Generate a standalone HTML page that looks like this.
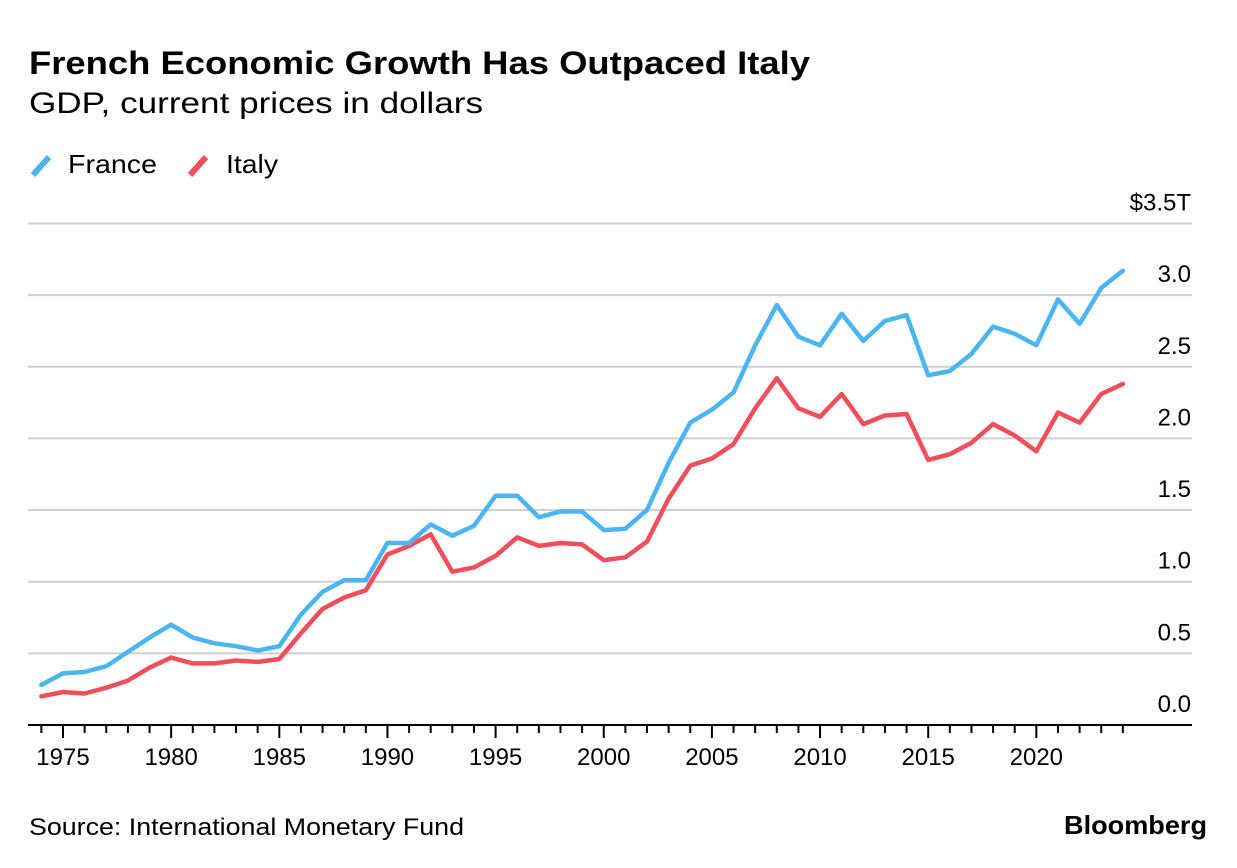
<!DOCTYPE html>
<html><head><meta charset="utf-8"><style>
body{margin:0;background:#fff;width:1237px;height:868px;overflow:hidden;font-family:"Liberation Sans",sans-serif}
svg{display:block}
</style></head><body>
<svg id="chart" width="1237" height="868" viewBox="0 0 1237 868" xmlns="http://www.w3.org/2000/svg" font-family="Liberation Sans, sans-serif">
<text x="29" y="74" font-size="32" font-weight="bold" fill="#000" textLength="781" lengthAdjust="spacingAndGlyphs">French Economic Growth Has Outpaced Italy</text>
<text x="29" y="113" font-size="30" fill="#000" textLength="454" lengthAdjust="spacingAndGlyphs">GDP, current prices in dollars</text>
<g>
<line x1="33" y1="175" x2="49" y2="157" stroke="#4bb5f3" stroke-width="6" stroke-linecap="butt"/>
<text x="68" y="173" font-size="26" textLength="89" lengthAdjust="spacingAndGlyphs">France</text>
<line x1="190" y1="175" x2="206" y2="157" stroke="#f04e5a" stroke-width="6"/>
<text x="226" y="173" font-size="26" textLength="52" lengthAdjust="spacingAndGlyphs">Italy</text>
</g>
<g id="grid"></g><g id="xaxis"></g><g id="series"></g>
<text x="29" y="835" font-size="24" textLength="435" lengthAdjust="spacingAndGlyphs">Source: International Monetary Fund</text>
<text x="1064" y="834" font-size="26" font-weight="bold" textLength="143" lengthAdjust="spacingAndGlyphs">Bloomberg</text>
</svg>
<script>
const years=[];for(let y=1974;y<=2024;y++)years.push(y);
const france=[0.28,0.36,0.37,0.41,0.51,0.61,0.70,0.61,0.57,0.55,0.52,0.55,0.77,0.93,1.01,1.01,1.27,1.27,1.40,1.32,1.39,1.60,1.60,1.45,1.49,1.49,1.36,1.37,1.50,1.83,2.11,2.20,2.32,2.65,2.93,2.71,2.65,2.87,2.68,2.82,2.86,2.44,2.47,2.59,2.78,2.73,2.65,2.97,2.80,3.05,3.17];
const italy=[0.20,0.23,0.22,0.26,0.31,0.40,0.47,0.43,0.43,0.45,0.44,0.46,0.64,0.81,0.89,0.94,1.19,1.25,1.33,1.07,1.10,1.18,1.31,1.25,1.27,1.26,1.15,1.17,1.28,1.58,1.81,1.86,1.96,2.21,2.42,2.21,2.15,2.31,2.10,2.16,2.17,1.85,1.89,1.97,2.10,2.02,1.91,2.18,2.11,2.31,2.38];
const yTicks=[0,0.5,1,1.5,2,2.5,3,3.5];
const yTickLabels=["0.0","0.5","1.0","1.5","2.0","2.5","3.0","$3.5T"];
const xLabelYears=[1975,1980,1985,1990,1995,2000,2005,2010,2015,2020];
const NS="http://www.w3.org/2000/svg";
const X=y=>63+(y-1975)*21.63;
const Y=v=>725-v*143.3;
function mk(tag,attrs,parent){const e=document.createElementNS(NS,tag);for(const k in attrs)e.setAttribute(k,attrs[k]);parent.appendChild(e);return e;}
const grid=document.getElementById('grid');
yTicks.forEach((v,i)=>{
 if(v>0){const l=mk('line',{x1:28,x2:1192,y1:Y(v),y2:Y(v),stroke:'#cfcfcf','stroke-width':2},grid);
 
 }
 const t=mk('text',{x:1191,y:Y(v)-13,'font-size':24,'text-anchor':'end',fill:'#000'},grid);
 t.textContent=yTickLabels[i];
 
 
});
const xa=document.getElementById('xaxis');
const ax=mk('line',{x1:28,x2:1192,y1:725,y2:725,stroke:'#000','stroke-width':2},xa);


years.forEach(yr=>{
 const major=yr%5===0;
 const tk=mk('line',{x1:X(yr),x2:X(yr),y1:725,y2:major?738:733,stroke:'#000','stroke-width':2},xa);
 
 
});
xLabelYears.forEach(yr=>{
 const t=mk('text',{x:X(yr),y:765,'font-size':24,'text-anchor':'middle'},xa);
 t.textContent=yr;
 
 
});
const s=document.getElementById('series');
function line(vals,color,name){
 const d=vals.map((v,i)=>(i?'L':'M')+X(years[i]).toFixed(1)+','+Y(v).toFixed(1)).join('');
 const p=mk('path',{d:d,fill:'none',stroke:color,'stroke-width':4.5,'stroke-linejoin':'round','stroke-linecap':'round'},s);
 
 
}
line(italy,'#f04e5a','italy-line');
line(france,'#4bb5f3','france-line');
</script>
</body></html>
